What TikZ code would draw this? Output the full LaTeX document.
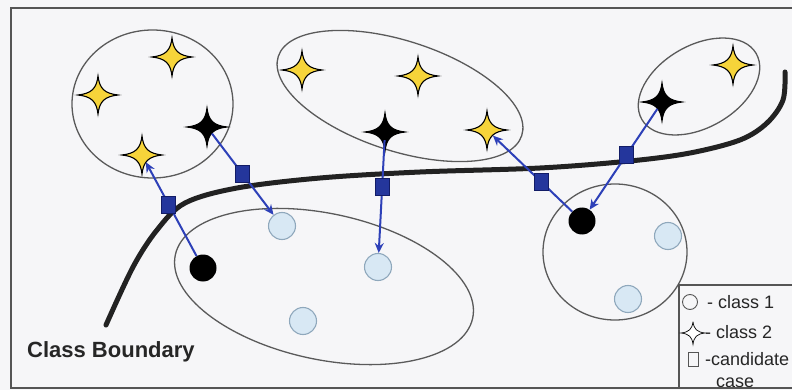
\documentclass[tikz,border=0pt]{standalone}
\usepackage{fontspec}
\setmainfont{Liberation Sans}
\usetikzlibrary{arrows.meta,calc}
\definecolor{bg}{HTML}{F6F6F8}
\definecolor{frm}{HTML}{555555}
\definecolor{grp}{HTML}{5A5A5A}
\definecolor{ystar}{HTML}{F6D43A}
\definecolor{cfill}{HTML}{D8E8F4}
\definecolor{cdraw}{HTML}{8FA8BC}
\definecolor{arrblue}{HTML}{2D40B8}
\definecolor{candfill}{HTML}{24369C}
\definecolor{canddraw}{HTML}{121C66}
\definecolor{bnd}{HTML}{222222}
\tikzset{
 group/.style={draw=grp, line width=1.3pt},
 cls1/.style={circle, draw=cdraw, fill=cfill, line width=1.1pt, minimum size=27pt, inner sep=0pt},
 blk/.style={circle, fill=black, minimum size=27pt, inner sep=0pt},
 starpt/.style={circle, inner sep=0pt, minimum size=16pt},
 cand/.style={rectangle, draw=canddraw, fill=candfill, line width=0.8pt, minimum width=14pt, minimum height=17pt, inner sep=0pt},
 link/.style={draw=arrblue, line width=2pt},
 arr/.style={link, -{Stealth[length=10pt,width=9pt]}},
 lgd/.style={font=\fontsize{18}{20}\selectfont, anchor=base west, inner sep=0pt, text=black!85},
}
\newcommand\fstar[5][1]{%
 \node[starpt] (#2) at (#3) {};
 \draw[fill=#4, draw=black, line width=#5, shift={(#2.center)}, scale=#1]
   (0,-19) .. controls (1.5,-6.5) and (6.5,-1.5) .. (20,0)
   .. controls (6.5,1.5) and (1.5,6.5) .. (0,19)
   .. controls (-1.5,6.5) and (-6.5,1.5) .. (-20,0)
   .. controls (-6.5,-1.5) and (-1.5,-6.5) .. cycle;}
\begin{document}
\begin{tikzpicture}[x=1pt,y=-1pt]
\useasboundingbox (0,0) rectangle (792,390);
\fill[bg] (0,0) rectangle (792,390);
% groups
\draw[group] (152.5,104) ellipse [x radius=80.5, y radius=74];
\draw[group, rotate around={-18:(400,96)}] (400,96) ellipse [x radius=128, y radius=55];
\draw[group, rotate around={30:(699,86.5)}] (699,86.5) ellipse [x radius=66, y radius=41];
\draw[group, rotate around={-12:(324,286.5)}] (324,286.5) ellipse [x radius=152, y radius=73];
\draw[group] (615,252) ellipse [x radius=72, y radius=68];
% class boundary
\draw[bnd, line width=5pt, line cap=round] plot[smooth, tension=0.55] coordinates {(106,325) (133,267) (157,230) (185,203) (237,188) (320,178) (420,172) (540,168) (630,161) (690,153) (740,140) (767,123) (783,100) (785,72)};
% stars
\fstar{y1}{172,57}{ystar}{1.1pt}
\fstar{y2}{98,95}{ystar}{1.1pt}
\fstar{y3}{142,155}{ystar}{1.1pt}
\fstar{k1}{207,127}{black}{1.1pt}
\fstar{y4}{302,70}{ystar}{1.1pt}
\fstar{y5}{418,76}{ystar}{1.1pt}
\fstar{y6}{487,130}{ystar}{1.1pt}
\fstar{k2}{385,132}{black}{1.1pt}
\fstar{y7}{733,65}{ystar}{1.1pt}
\fstar{k3}{662,102}{black}{1.1pt}
% class 1 circles
\node[cls1] (c1) at (282,226) {};
\node[cls1] (c2) at (378,267) {};
\node[cls1] (c3) at (303,321) {};
\node[cls1] (c4) at (668,236) {};
\node[cls1] (c5) at (628,299) {};
\node[blk] (b1) at (203,268) {};
\node[blk] (b2) at (582,221) {};
% connectors
\draw[arr] (b1) -- (y3);
\draw[arr] (k1) -- (c1);
\draw[arr] (k2) -- (c2);
\draw[arr] (b2) -- (y6);
\draw[arr] (k3) -- (b2);
% candidates
\node[cand] (s1) at ($(b1)!0.56!(y3)$) {};
\node[cand] (s2) at ($(k1)!0.47!(c1)$) {};
\node[cand] (s3) at ($(k2)!0.41!(c2)$) {};
\node[cand] (s4) at ($(b2)!0.43!(y6)$) {};
\node[cand] (s5) at ($(k3)!0.445!(b2)$) {};
% label
\node[font=\bfseries\fontsize{22}{24}\selectfont, anchor=base west, inner sep=0pt, text=black!85] (cb) at (27,357) {Class Boundary};
% legend
\draw[frm, line width=1.2pt] (792,285) -- (679,285) -- (679,388);
\node[circle, draw=frm, line width=0.9pt, minimum size=15pt, inner sep=0pt] (lc) at (690,302) {};
\fstar[0.6]{ls}{693,333}{white}{0.7pt}
\node[rectangle, draw=frm, line width=0.8pt, minimum width=10pt, minimum height=14pt, inner sep=0pt] (lq) at (693,359) {};
\node[lgd] (t1) at (707,308) {- class 1};
\node[lgd] (t2) at (705,338) {- class 2};
\node[lgd] (t3) at (705,365) {-candidate};
\node[lgd] (t4) at (716,387) {case};
% frame
\draw[frm, line width=1.5pt] (792,8) -- (11,8) -- (11,388) -- (792,388);
\end{tikzpicture}
\end{document}
